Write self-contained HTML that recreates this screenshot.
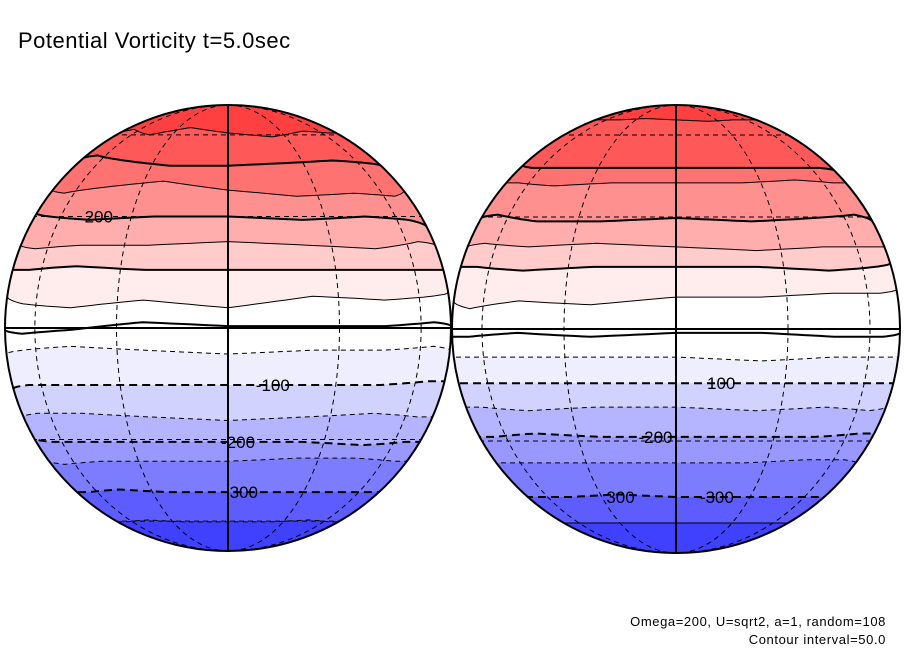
<!DOCTYPE html>
<html><head><meta charset="utf-8"><style>
html,body{margin:0;padding:0;background:#fff;}
svg{display:block;font-family:"Liberation Sans",sans-serif;}
</style></head><body>
<svg id="chart" width="904" height="654" viewBox="0 0 904 654">
<text x="18" y="48" font-size="22" fill="#000" letter-spacing="0.5">Potential Vorticity t=5.0sec</text>
<text x="886" y="626" font-size="13" text-anchor="end" letter-spacing="0.6">Omega=200, U=sqrt2, a=1, random=108</text>
<text x="886" y="644" font-size="13" text-anchor="end" letter-spacing="0.6">Contour interval=50.0</text>
</svg>
<script>
// contour levels and band colours (band below each level)
const levels = [350,300,250,200,150,100,50,0,-50,-100,-150,-200,-250,-300,-350];
const topColor = '#ff4040';
const bandColors = ['#ff5858','#ff7272','#ff9090','#ffadad','#ffcbcb','#ffeded','#ffffff','#ffffff','#eeeeff','#d2d2ff','#b4b4ff','#9898ff','#7c7cff','#5c5cff','#4040ff'];
// mean latitude (deg) of each contour, per globe
const latLeft  = [61,47.7,38.2,30,21.8,15.1,7.2,0.5,-5.7,-14.8,-23.5,-30.7,-36.7,-47.4,-60.4];
const latRight = [69,46,40.7,29.7,21.5,16.1,8.2,-1,-7.2,-14,-20.4,-28.8,-36.7,-48.6,-60];
// latitude wobble (deg) at longitudes -90..90 step 22.5
const wobLeft = [
 [0,2,-1,3,0,-2,1,0,0],[2,3,1,-1,-1,0,1,0,-1],[0,-1,1,3,0,-2,-1,-2,0],[1,0,-1,0,0,-1,0,-1,-3],
 [0,-1,0,0,1,0,-1,1,0],[0,0,1,0,0,0,0,0,0],[1,-1,-2,0,-2,1,0,1,2],[-1,-2,-1,1,0,0,0,1,0],
 [-1,0,1,0,-1,0,0,1,0],[-1,0,0,0,0,0,0,1,1],[0,1,1,0,-1,0,1,0,0],[1,0,0,0,0,0,-1,0,0],
 [0,-1,0,0,0,1,1,0,0],[0,0,1,0,0,0,0,0,0],[0,0,1,0,0,0,1,0,0]];
const wobRight = [
 [0,0,0,1,0,-1,0,0,0],[1,0,0,0,0,0,0,0,-1],[0,0,-1,0,0,0,1,0,0],[0,1,-1,-1,0,-1,0,1,-1],
 [0,1,0,1,0,-1,0,0,0],[0,0,-1,0,0,0,-1,0,1],[-1,-3,-1,-2,0,0,1,1,2],[-1,-1,0,-1,0,0,-1,-1,0],
 [0,0,0,0,0,-1,0,0,0],[0,0,0,0,0,0,0,0,0],[0,0,-1,0,0,-1,0,-1,0],[0,0,1,0,0,0,0,1,1],
 [0,0,0,0,0,0,1,1,0],[0,0,0,1,0,0,0,0,0],[0,0,0,0,0,0,0,0,0]];
// contour labels: [globe, level, lon, text]
const labels = [[0,200,-42,'200'],[0,-100,12,'-100'],[0,-200,3,'-200'],[0,-300,6,'300'],
 [1,-100,12,'100'],[1,-200,-6,'-200'],[1,-300,-22,'300'],[1,-300,16,'-300']];

const NS='http://www.w3.org/2000/svg';
const svg=document.getElementById('chart');
const globes=[{cx:228,cy:328,R:223,lat:latLeft,wob:wobLeft,name:'left'},{cx:676,cy:329,R:224,lat:latRight,wob:wobRight,name:'right'}];
function mk(t,a){const e=document.createElementNS(NS,t);for(const k in a)e.setAttribute(k,a[k]);return e;}
const rad=Math.PI/180;
function proj(g,lat,lon){return [g.cx+g.R*Math.cos(lat*rad)*Math.sin(lon*rad), g.cy-g.R*Math.sin(lat*rad)];}
function contourPts(g,i){const pts=[];for(let lon=-90;lon<=90;lon+=2.5){const f=(lon+90)/22.5;const k=Math.min(7,Math.floor(f));const t=f-k;const w=g.wob[i][k]*(1-t)+g.wob[i][k+1]*t;pts.push(proj(g,g.lat[i]+w,lon));}
  // extend horizontally to the disc edge
  pts.unshift([g.cx-g.R-5,pts[0][1]]);pts.push([g.cx+g.R+5,pts[pts.length-1][1]]);return pts;}
globes.forEach((g,gi)=>{
  const defs=mk('defs',{});const cp=mk('clipPath',{id:'clip'+gi});cp.appendChild(mk('circle',{cx:g.cx,cy:g.cy,r:g.R}));defs.appendChild(cp);svg.appendChild(defs);
  const grp=mk('g',{'clip-path':'url(#clip'+gi+')'});
  
  
  svg.appendChild(grp);
  const bg=mk('circle',{cx:g.cx,cy:g.cy,r:g.R,fill:topColor});
  
  
  grp.appendChild(bg);
  levels.forEach((lv,i)=>{
    const p=contourPts(g,i);
    let d='M'+p.map(q=>q[0].toFixed(1)+','+q[1].toFixed(1)).join('L')+'L'+(g.cx+g.R+5)+','+(g.cy+g.R+5)+'L'+(g.cx-g.R-5)+','+(g.cy+g.R+5)+'Z';
    const band=mk('path',{d:d,fill:bandColors[i]});
    
    
    grp.appendChild(band);
  });
  const gs={stroke:'#000','stroke-width':1,'stroke-dasharray':'5,4',fill:'none'};
  [-60,-30,30,60].forEach(la=>{const y=g.cy-g.R*Math.sin(la*rad);const l=mk('line',Object.assign({x1:g.cx-g.R,x2:g.cx+g.R,y1:y,y2:y},gs));
    
    
    grp.appendChild(l);});
  [30,60].forEach(lo=>{const e=mk('ellipse',Object.assign({cx:g.cx,cy:g.cy,rx:g.R*Math.sin(lo*rad),ry:g.R},gs));
    
    
    grp.appendChild(e);});
  levels.forEach((lv,i)=>{
    const p=contourPts(g,i);
    const thick=lv%100===0;
    const a={d:'M'+p.map(q=>q[0].toFixed(1)+','+q[1].toFixed(1)).join('L'),fill:'none',stroke:'#000','stroke-width':thick?2:1};
    if(lv<0)a['stroke-dasharray']=thick?'8,5':'5,4';
    const c=mk('path',a);
    
    
    grp.appendChild(c);
  });
  const eq=mk('line',{x1:g.cx-g.R,x2:g.cx+g.R,y1:g.cy,y2:g.cy,stroke:'#000','stroke-width':2});
  
  
  grp.appendChild(eq);
  const cm=mk('line',{x1:g.cx,x2:g.cx,y1:g.cy-g.R,y2:g.cy+g.R,stroke:'#000','stroke-width':2});
  
  
  grp.appendChild(cm);
  const ol=mk('circle',{cx:g.cx,cy:g.cy,r:g.R,fill:'none',stroke:'#000','stroke-width':2});
  
  
  svg.appendChild(ol);
});
labels.forEach(L=>{
  const g=globes[L[0]];const i=levels.indexOf(L[1]);
  const q=proj(g,g.lat[i],L[2]);
  const t=mk('text',{x:q[0],y:q[1]+6,'font-size':17,'text-anchor':'middle',fill:'#000'});
  t.textContent=L[3];
  
  
  svg.appendChild(t);
});
</script>
</body></html>
